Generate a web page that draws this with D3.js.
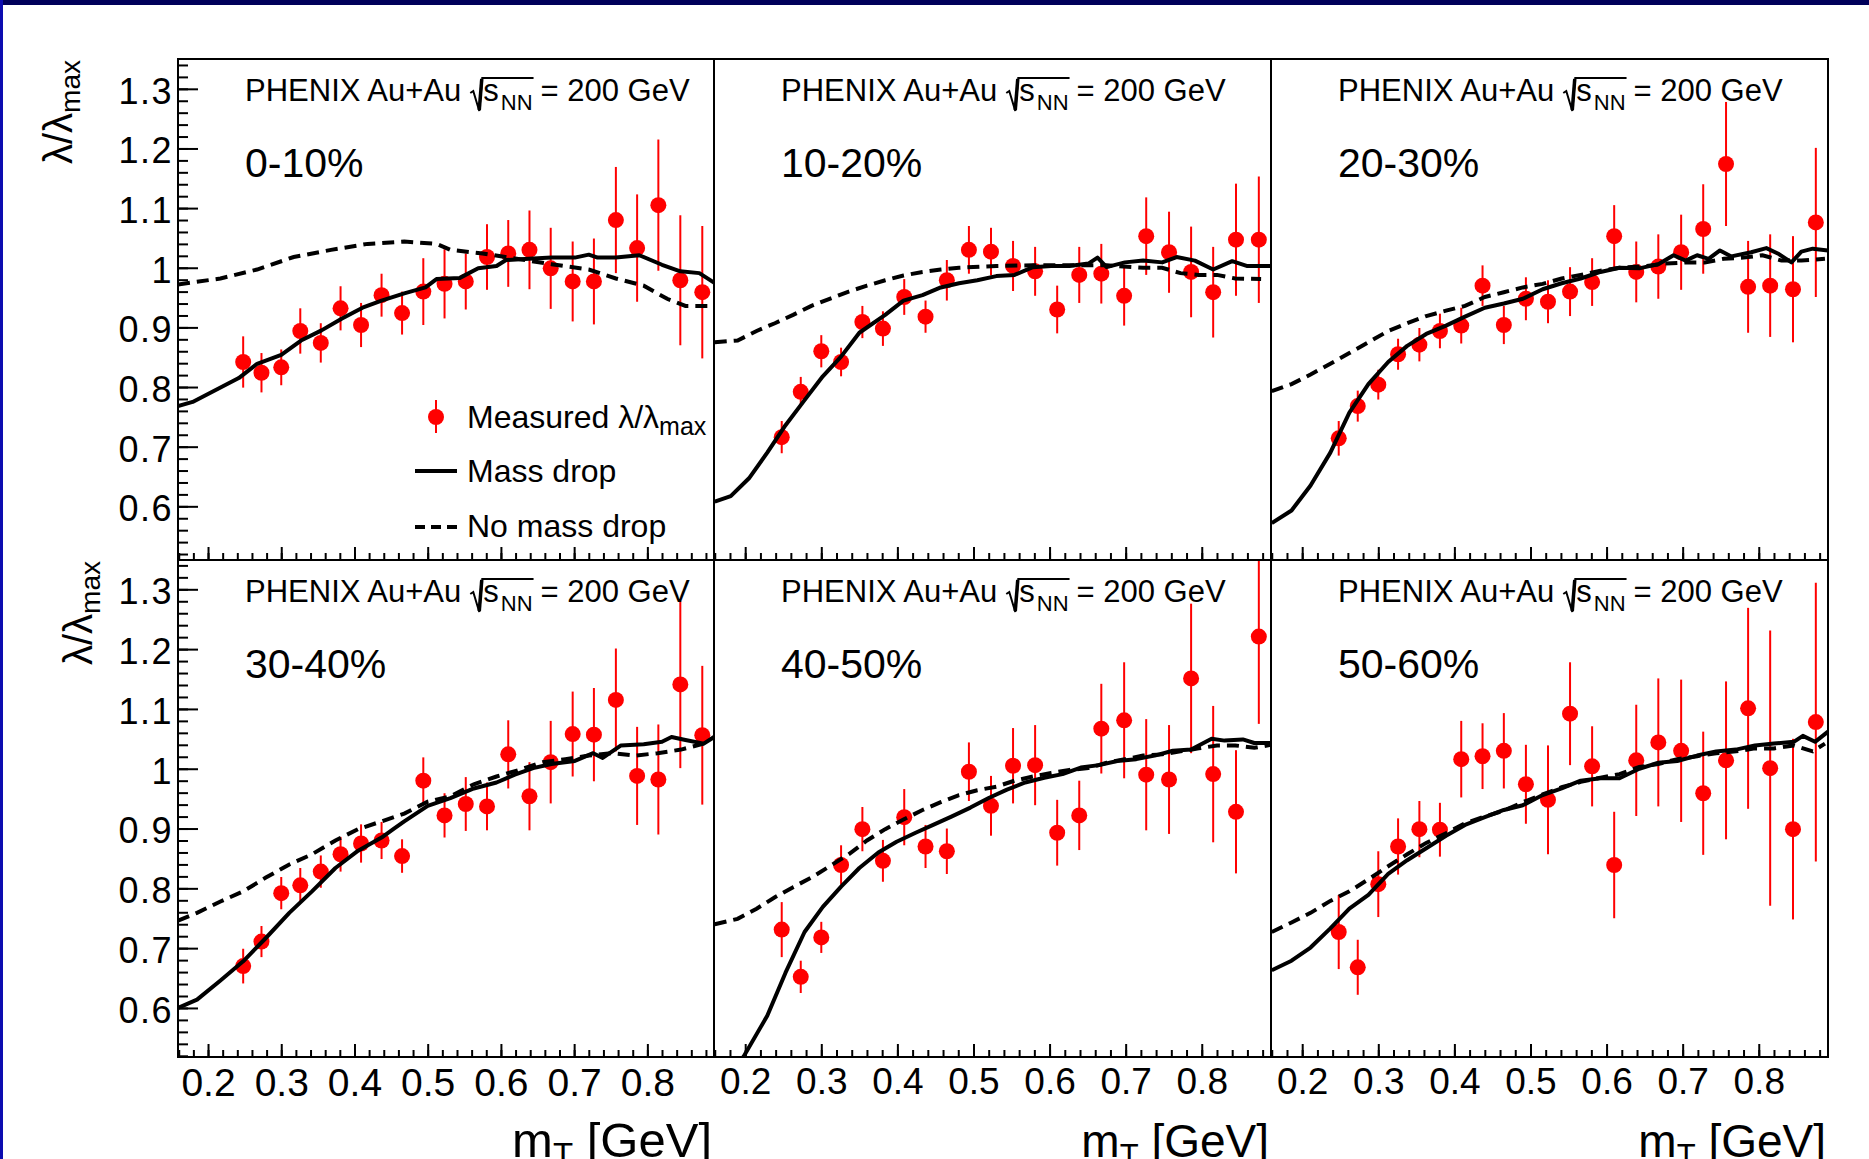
<!DOCTYPE html>
<html>
<head>
<meta charset="utf-8">
<script src="https://cdn.jsdelivr.net/npm/d3@7"></script>
<style>
  body { margin: 0; background: #fff; }
  svg { display: block; }
  text { font-family: "Liberation Sans", Arial, sans-serif; fill: #000; }
</style>
</head>
<body>
<div id="chart"></div>
<script>
// measured points share the same mT bins in every centrality class
var mT = [0.248, 0.273, 0.300, 0.326, 0.354, 0.381, 0.409, 0.437, 0.465, 0.494, 0.523, 0.552,
          0.581, 0.610, 0.639, 0.668, 0.698, 0.727, 0.757, 0.786, 0.815, 0.845, 0.875];

var centralities = ["0-10%", "10-20%", "20-30%", "30-40%", "40-50%", "50-60%"];

var lambda = [
  [0.842, 0.824, 0.833, 0.894, 0.874, 0.932, 0.904, 0.954, 0.924, 0.960, 0.973, 0.977, 1.018, 1.024, 1.030, 0.999, 0.977, 0.977, 1.080, 1.033, 1.105, 0.979, 0.959],
  [0.716, 0.792, 0.860, 0.842, 0.909, 0.898, 0.951, 0.918, 0.979, 1.030, 1.027, 1.003, 0.994, 0.930, 0.988, 0.990, 0.953, 1.053, 1.026, 0.993, 0.959, 1.047, 1.047],
  [0.714, 0.768, 0.804, 0.855, 0.871, 0.894, 0.903, 0.970, 0.904, 0.948, 0.943, 0.960, 0.976, 1.053, 0.993, 1.002, 1.026, 1.065, 1.174, 0.968, 0.970, 0.964, 1.076],
  [0.670, 0.711, 0.792, 0.805, 0.828, 0.857, 0.875, 0.880, 0.854, 0.980, 0.922, 0.941, 0.937, 1.024, 0.954, 1.011, 1.058, 1.057, 1.115, 0.988, 0.982, 1.141, 1.056],
  [0.731, 0.652, 0.718, 0.839, 0.899, 0.846, 0.919, 0.870, 0.862, 0.995, 0.938, 1.005, 1.006, 0.893, 0.922, 1.067, 1.081, 0.990, 0.982, 1.151, 0.991, 0.928, 1.221],
  [0.727, 0.668, 0.807, 0.870, 0.899, 0.898, 1.016, 1.021, 1.030, 0.974, 0.948, 1.092, 1.004, 0.839, 1.014, 1.044, 1.030, 0.959, 1.014, 1.101, 1.001, 0.899, 1.078]
];

var lambdaErr = [
  [0.043, 0.033, 0.030, 0.038, 0.033, 0.037, 0.037, 0.036, 0.036, 0.056, 0.058, 0.047, 0.055, 0.056, 0.066, 0.068, 0.067, 0.072, 0.089, 0.090, 0.110, 0.109, 0.111],
  [0.027, 0.025, 0.027, 0.024, 0.027, 0.029, 0.030, 0.027, 0.034, 0.040, 0.040, 0.042, 0.041, 0.040, 0.047, 0.050, 0.050, 0.065, 0.068, 0.076, 0.076, 0.094, 0.106],
  [0.029, 0.026, 0.025, 0.026, 0.028, 0.029, 0.030, 0.034, 0.032, 0.036, 0.036, 0.041, 0.040, 0.052, 0.051, 0.054, 0.063, 0.075, 0.104, 0.077, 0.086, 0.089, 0.125],
  [0.029, 0.026, 0.027, 0.029, 0.027, 0.029, 0.032, 0.031, 0.028, 0.039, 0.037, 0.045, 0.040, 0.057, 0.057, 0.069, 0.071, 0.078, 0.086, 0.082, 0.092, 0.140, 0.116],
  [0.046, 0.027, 0.026, 0.033, 0.037, 0.035, 0.047, 0.036, 0.038, 0.049, 0.050, 0.063, 0.067, 0.055, 0.058, 0.075, 0.097, 0.093, 0.091, 0.125, 0.114, 0.103, 0.146],
  [0.062, 0.046, 0.055, 0.047, 0.047, 0.045, 0.064, 0.055, 0.063, 0.066, 0.091, 0.086, 0.067, 0.089, 0.093, 0.107, 0.119, 0.103, 0.132, 0.168, 0.230, 0.151, 0.233]
];

// model curves, [mT, lambda/lambda_max]
var massDrop = [
  [[0.159,0.768],[0.179,0.775],[0.242,0.815],[0.267,0.839],[0.300,0.854],[0.327,0.878],[0.355,0.895],[0.383,0.915],[0.411,0.933],[0.437,0.945],[0.468,0.957],[0.497,0.967],[0.512,0.981],[0.544,0.983],[0.569,0.999],[0.594,1.003],[0.607,1.013],[0.638,1.015],[0.669,1.017],[0.701,1.017],[0.720,1.022],[0.732,1.017],[0.757,1.017],[0.789,1.021],[0.820,1.005],[0.845,0.994],[0.871,0.991],[0.891,0.975]],
  [[0.160,0.608],[0.181,0.617],[0.205,0.647],[0.229,0.690],[0.253,0.736],[0.278,0.778],[0.302,0.818],[0.326,0.851],[0.350,0.891],[0.384,0.921],[0.408,0.945],[0.433,0.954],[0.457,0.967],[0.481,0.974],[0.505,0.979],[0.530,0.986],[0.554,0.988],[0.578,1.001],[0.602,1.003],[0.626,1.003],[0.651,1.007],[0.663,1.017],[0.675,1.001],[0.699,1.009],[0.723,1.012],[0.748,1.009],[0.767,1.018],[0.791,1.012],[0.815,0.997],[0.840,1.011],[0.859,1.003],[0.891,1.003]],
  [[0.160,0.572],[0.186,0.593],[0.211,0.635],[0.237,0.690],[0.262,0.757],[0.287,0.805],[0.313,0.842],[0.338,0.869],[0.363,0.889],[0.389,0.903],[0.414,0.918],[0.440,0.933],[0.465,0.940],[0.490,0.948],[0.516,0.964],[0.541,0.974],[0.566,0.982],[0.592,0.993],[0.617,1.000],[0.643,0.999],[0.668,1.006],[0.688,1.021],[0.704,1.012],[0.719,1.021],[0.734,1.015],[0.749,1.029],[0.764,1.019],[0.790,1.026],[0.810,1.033],[0.825,1.024],[0.843,1.009],[0.856,1.027],[0.871,1.032],[0.891,1.029]],
  [[0.159,0.600],[0.185,0.614],[0.217,0.646],[0.248,0.678],[0.279,0.717],[0.311,0.759],[0.342,0.795],[0.374,0.834],[0.405,0.863],[0.437,0.885],[0.453,0.899],[0.468,0.912],[0.500,0.938],[0.531,0.951],[0.563,0.967],[0.594,0.977],[0.619,0.990],[0.644,1.001],[0.669,1.008],[0.701,1.013],[0.726,1.026],[0.739,1.018],[0.764,1.039],[0.795,1.041],[0.820,1.045],[0.833,1.053],[0.852,1.048],[0.877,1.042],[0.891,1.053]],
  [[0.160,0.440],[0.198,0.519],[0.229,0.587],[0.253,0.659],[0.278,0.727],[0.302,0.769],[0.326,0.803],[0.350,0.834],[0.375,0.860],[0.399,0.878],[0.424,0.893],[0.447,0.906],[0.471,0.920],[0.496,0.935],[0.520,0.951],[0.544,0.965],[0.568,0.977],[0.593,0.985],[0.617,0.991],[0.641,1.002],[0.665,1.006],[0.689,1.013],[0.714,1.016],[0.738,1.022],[0.762,1.030],[0.786,1.032],[0.813,1.050],[0.830,1.047],[0.854,1.049],[0.869,1.043],[0.891,1.043]],
  [[0.160,0.663],[0.186,0.679],[0.211,0.701],[0.237,0.733],[0.262,0.766],[0.287,0.789],[0.313,0.824],[0.338,0.847],[0.363,0.867],[0.389,0.888],[0.414,0.906],[0.440,0.919],[0.465,0.931],[0.490,0.939],[0.516,0.956],[0.541,0.967],[0.566,0.980],[0.592,0.984],[0.617,0.984],[0.643,1.000],[0.668,1.010],[0.693,1.013],[0.719,1.022],[0.744,1.029],[0.770,1.032],[0.795,1.039],[0.820,1.042],[0.846,1.045],[0.858,1.055],[0.874,1.045],[0.891,1.062]]
];

var noMassDrop = [
  [[0.159,0.972],[0.217,0.982],[0.267,0.997],[0.317,1.018],[0.368,1.030],[0.418,1.040],[0.468,1.044],[0.512,1.040],[0.531,1.030],[0.575,1.024],[0.606,1.018],[0.669,1.006],[0.720,0.997],[0.757,0.982],[0.795,0.970],[0.827,0.948],[0.852,0.936],[0.891,0.936]],
  [[0.160,0.875],[0.190,0.878],[0.215,0.894],[0.239,0.907],[0.263,0.921],[0.287,0.936],[0.311,0.948],[0.336,0.960],[0.360,0.970],[0.384,0.979],[0.408,0.987],[0.433,0.993],[0.457,0.997],[0.481,1.000],[0.530,1.003],[0.578,1.004],[0.626,1.004],[0.675,1.004],[0.723,1.000],[0.748,1.000],[0.772,0.991],[0.796,0.988],[0.820,0.988],[0.844,0.982],[0.878,0.981]],
  [[0.160,0.793],[0.186,0.805],[0.211,0.821],[0.237,0.839],[0.262,0.857],[0.287,0.875],[0.313,0.894],[0.338,0.907],[0.363,0.919],[0.389,0.928],[0.414,0.936],[0.440,0.951],[0.465,0.959],[0.490,0.967],[0.516,0.973],[0.541,0.982],[0.566,0.988],[0.592,0.995],[0.617,1.000],[0.653,1.003],[0.678,1.007],[0.704,1.009],[0.729,1.009],[0.754,1.015],[0.780,1.017],[0.805,1.021],[0.830,1.012],[0.856,1.012],[0.887,1.015]],
  [[0.159,0.746],[0.185,0.759],[0.217,0.778],[0.248,0.795],[0.279,0.818],[0.311,0.840],[0.342,0.857],[0.374,0.880],[0.405,0.899],[0.437,0.912],[0.468,0.925],[0.500,0.945],[0.531,0.954],[0.563,0.974],[0.594,0.987],[0.625,0.998],[0.657,1.011],[0.688,1.016],[0.720,1.022],[0.751,1.026],[0.783,1.022],[0.814,1.026],[0.846,1.032],[0.877,1.042]],
  [[0.160,0.740],[0.190,0.749],[0.215,0.766],[0.239,0.785],[0.263,0.802],[0.287,0.818],[0.311,0.837],[0.336,0.857],[0.360,0.880],[0.384,0.899],[0.408,0.915],[0.433,0.931],[0.457,0.944],[0.481,0.956],[0.505,0.964],[0.530,0.970],[0.554,0.980],[0.578,0.987],[0.602,0.993],[0.626,0.998],[0.651,1.001],[0.675,1.010],[0.699,1.016],[0.723,1.022],[0.748,1.024],[0.772,1.029],[0.796,1.034],[0.820,1.039],[0.844,1.039],[0.869,1.035],[0.891,1.040]],
  [[0.160,0.727],[0.186,0.743],[0.211,0.759],[0.237,0.779],[0.262,0.795],[0.287,0.815],[0.313,0.837],[0.338,0.857],[0.363,0.876],[0.389,0.892],[0.414,0.909],[0.440,0.920],[0.465,0.930],[0.490,0.944],[0.516,0.957],[0.541,0.969],[0.566,0.978],[0.592,0.985],[0.617,0.991],[0.643,1.003],[0.668,1.008],[0.693,1.016],[0.719,1.021],[0.744,1.026],[0.770,1.029],[0.795,1.034],[0.820,1.034],[0.846,1.039],[0.871,1.029],[0.887,1.042]]
];

var xTicks = [0.2, 0.3, 0.4, 0.5, 0.6, 0.7, 0.8];
var xTickLabels = ["0.2", "0.3", "0.4", "0.5", "0.6", "0.7", "0.8"];
var yTicks = [0.6, 0.7, 0.8, 0.9, 1.0, 1.1, 1.2, 1.3];
var yTickLabels = ["0.6", "0.7", "0.8", "0.9", "1", "1.1", "1.2", "1.3"];

// layout
var svgWidth = 1869;
var svgHeight = 1159;
var colEdges = [178, 714, 1271, 1828];
var rowEdges = [59, 560, 1057];
var xDomain = [0.159, 0.891];
var yDomains = [[0.51, 1.35], [0.518, 1.349]];
var xMinor = d3.range(16, 90, 2).map(d => d / 100);
var yMinor = d3.range(52, 135, 2).map(d => d / 100);

var svg = d3.select("#chart").append("svg")
    .attr("width", svgWidth)
    .attr("height", svgHeight);

svg.append("rect").attr("width", svgWidth).attr("height", svgHeight).attr("fill", "#fff");
svg.append("rect").attr("width", svgWidth).attr("height", 5).attr("fill", "#00005a");
svg.append("rect").attr("width", 3).attr("height", svgHeight).attr("fill", "#0c0cb0");

var line = d3.line().x(d => d[0]).y(d => d[1]);

centralities.forEach(function(label, i) {
    var col = i % 3, row = Math.floor(i / 3);
    var x0 = colEdges[col], x1 = colEdges[col + 1];
    var y0 = rowEdges[row], y1 = rowEdges[row + 1];

    var x = d3.scaleLinear().domain(xDomain).range([x0, x1]);
    var y = d3.scaleLinear().domain(yDomains[row]).range([y1, y0]);

    var panel = svg.append("g");
    var clipId = "clip" + i;
    panel.append("clipPath").attr("id", clipId)
        .append("rect")
        .attr("x", x0).attr("y", y0)
        .attr("width", x1 - x0).attr("height", y1 - y0);

    var plot = panel.append("g").attr("clip-path", `url(#${clipId})`);

    // measured points with error bars
    var pts = mT.map((m, k) => ({x: m, y: lambda[i][k], e: lambdaErr[i][k]}));
    plot.selectAll(".err").data(pts).enter().append("line")
        .attr("x1", d => x(d.x)).attr("x2", d => x(d.x))
        .attr("y1", d => y(d.y + d.e)).attr("y2", d => y(d.y - d.e))
        .attr("stroke", "#ff0000").attr("stroke-width", 2);
    plot.selectAll(".pt").data(pts).enter().append("circle")
        .attr("cx", d => x(d.x)).attr("cy", d => y(d.y))
        .attr("r", 8).attr("fill", "#ff0000");

    // model curves
    plot.append("path")
        .attr("d", line(noMassDrop[i].map(d => [x(d[0]), y(d[1])])))
        .attr("fill", "none").attr("stroke", "#000").attr("stroke-width", 4)
        .attr("stroke-dasharray", "12,7");
    plot.append("path")
        .attr("d", line(massDrop[i].map(d => [x(d[0]), y(d[1])])))
        .attr("fill", "none").attr("stroke", "#000").attr("stroke-width", 4)
        .attr("stroke-linejoin", "round");

    // x axis (ticks inside the frame)
    var fsX = col === 0 ? 39 : 37;
    var xAx = panel.append("g").attr("transform", `translate(0, ${y1})`)
        .call(d3.axisBottom(x).tickValues(xTicks).tickSize(-13).tickPadding(11)
            .tickFormat((d, k) => row === 1 ? xTickLabels[k] : ""));
    xAx.attr("font-size", fsX).attr("font-family", null);
    panel.append("g").attr("transform", `translate(0, ${y1})`)
        .call(d3.axisBottom(x).tickValues(xMinor).tickSize(-7).tickFormat(""));

    if (col === 0) {
        var yAx = panel.append("g").attr("transform", `translate(${x0}, 0)`)
            .call(d3.axisLeft(y).tickValues(yTicks).tickSize(-20).tickPadding(5)
                .tickFormat((d, k) => yTickLabels[k]));
        yAx.attr("font-size", 36).attr("font-family", null);
        yAx.selectAll("text").attr("dy", "0.4em").attr("letter-spacing", 1.5);
        panel.append("g").attr("transform", `translate(${x0}, 0)`)
            .call(d3.axisLeft(y).tickValues(yMinor).tickSize(-10).tickFormat(""));
    }
    panel.selectAll(".domain").remove();
    panel.selectAll(".tick line").attr("stroke", "#000").attr("stroke-width", 2);

    // frame
    panel.append("rect")
        .attr("x", x0).attr("y", y0)
        .attr("width", x1 - x0).attr("height", y1 - y0)
        .attr("fill", "none").attr("stroke", "#000").attr("stroke-width", 2);

    // header: PHENIX Au+Au sqrt(s_NN) = 200 GeV
    var hx = x0 + 67, hy = y0 + 42;
    var t1 = panel.append("text").attr("x", hx).attr("y", hy).attr("font-size", 31).text("PHENIX Au+Au");
    var rx = hx + t1.node().getComputedTextLength() + 9;
    var ts = panel.append("text").attr("x", rx + 13).attr("y", hy).attr("font-size", 31).text("s");
    var nx = rx + 13 + ts.node().getComputedTextLength() + 2;
    var tn = panel.append("text").attr("x", nx).attr("y", hy + 9).attr("font-size", 22).text("NN");
    var ex = nx + tn.node().getComputedTextLength();
    panel.append("path")
        .attr("d", `M${rx},${hy - 8} L${rx + 3},${hy - 10} L${rx + 9},${hy + 10} L${rx + 12},${hy - 23} L${ex + 1},${hy - 23}`)
        .attr("fill", "none").attr("stroke", "#000").attr("stroke-width", 2);
    panel.append("line")
        .attr("x1", rx + 9).attr("y1", hy + 9).attr("x2", rx + 11.5).attr("y2", hy - 22)
        .attr("stroke", "#000").attr("stroke-width", 3.5);
    panel.append("text").attr("x", ex + 8).attr("y", hy).attr("font-size", 31).text("= 200 GeV");

    panel.append("text").attr("x", hx).attr("y", y0 + 118).attr("font-size", 41).text(label);

    // x title on the bottom row
    if (row === 1) {
        var xt = panel.append("text").attr("x", x1 - 2).attr("y", 1157)
            .attr("text-anchor", "end").attr("font-size", col === 0 ? 49 : 46);
        xt.append("tspan").text("m");
        xt.append("tspan").attr("font-size", col === 0 ? 33 : 31).attr("dy", 9).text("T");
        xt.append("tspan").attr("dy", -9).text(" [GeV]");
    }

    // y title on the left column
    if (col === 0) {
        var yt = panel.append("text")
            .attr("transform", `translate(${row === 0 ? 72 : 92}, ${y0 + 1}) rotate(-90)`)
            .attr("text-anchor", "end").attr("font-size", 40);
        yt.append("tspan").text("λ/λ");
        yt.append("tspan").attr("font-size", 28).attr("dy", 8).text("max");
    }
});

// legend in the first panel
var legend = svg.append("g");
legend.append("line").attr("x1", 436).attr("x2", 436).attr("y1", 400).attr("y2", 433)
    .attr("stroke", "#ff0000").attr("stroke-width", 2);
legend.append("circle").attr("cx", 436).attr("cy", 417).attr("r", 8).attr("fill", "#ff0000");
var lt = legend.append("text").attr("x", 467).attr("y", 428).attr("font-size", 32);
lt.append("tspan").text("Measured λ/λ");
lt.append("tspan").attr("font-size", 25).attr("dy", 7).text("max");
legend.append("line").attr("x1", 415).attr("x2", 457).attr("y1", 471).attr("y2", 471)
    .attr("stroke", "#000").attr("stroke-width", 4);
legend.append("text").attr("x", 467).attr("y", 482).attr("font-size", 32).text("Mass drop");
legend.append("line").attr("x1", 415).attr("x2", 457).attr("y1", 527).attr("y2", 527)
    .attr("stroke", "#000").attr("stroke-width", 4).attr("stroke-dasharray", "10,6");
legend.append("text").attr("x", 467).attr("y", 537).attr("font-size", 32).text("No mass drop");
</script>
</body>
</html>
